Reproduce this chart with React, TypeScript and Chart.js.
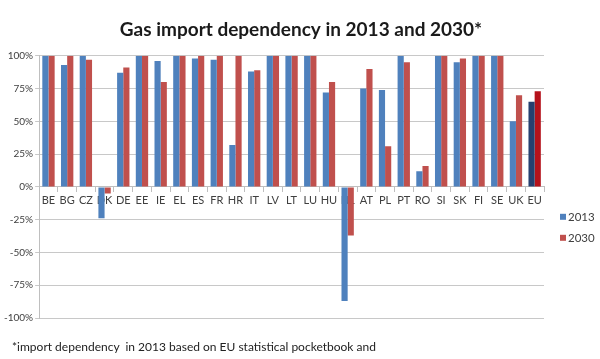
import React, { useEffect, useRef } from "react";
import { Chart, registerables } from "chart.js";

Chart.register(...registerables);

const categories = ["BE","BG","CZ","DK","DE","EE","IE","EL","ES","FR","HR","IT","LV","LT","LU","HU","NL","AT","PL","PT","RO","SI","SK","FI","SE","UK","EU"];
const values2013 = [100,93,100,-24,87,100,96,100,98,97,32,88,100,100,100,72,-87,75,74,100,12,100,95,100,100,50,65];
const values2030 = [100,100,97,-5,91,100,80,100,100,100,100,89,100,100,100,80,-37,90,31,95,16,100,98,100,100,70,73];
const seriesLabels = ["2013", "2030"];
const yTicks = [-100, -75, -50, -25, 0, 25, 50, 75, 100];
const titleText = "Gas import dependency in 2013 and 2030*";
const footnoteText = "*import dependency  in 2013 based on EU statistical pocketbook and";

const BLUE = "#4F81BD";
const RED = "#C0504D";
const EU_BLUE = "#26406F";
const EU_RED = "#B5121B";
const FONT = "Lato, 'Open Sans', sans-serif";

const sideLegend = {
  id: "sideLegend",
  afterDraw(chart: any) {
    const { ctx, chartArea } = chart;
    ctx.save();
    ctx.font = `11.5px ${FONT}`;
    ctx.textBaseline = "middle";
    chart.data.datasets.forEach((ds: any, i: number) => {
      const x = chartArea.right + 16;
      const y = chartArea.top + 161 + i * 21;
      const c = Array.isArray(ds.backgroundColor) ? ds.backgroundColor[0] : ds.backgroundColor;
      ctx.fillStyle = c;
      ctx.fillRect(x, y - 3, 6, 6);
      ctx.fillStyle = "#404040";
      ctx.fillText(ds.label, x + 8, y);
    });
    ctx.restore();
  },
};

export default function App() {
  const ref = useRef<HTMLCanvasElement>(null);
  useEffect(() => {
    document.body.style.margin = "0";
    const colors13 = categories.map((c) => (c === "EU" ? EU_BLUE : BLUE));
    const colors30 = categories.map((c) => (c === "EU" ? EU_RED : RED));
    const chart = new Chart(ref.current!, {
      type: "bar",
      data: {
        labels: categories,
        datasets: [
          { label: seriesLabels[0], data: values2013, backgroundColor: colors13, categoryPercentage: 0.66, barPercentage: 1 },
          { label: seriesLabels[1], data: values2030, backgroundColor: colors30, categoryPercentage: 0.66, barPercentage: 1 },
        ],
      },
      options: {
        animation: false,
        responsive: false,
        layout: { padding: { left: 2, right: 0, top: 0, bottom: 41 } },
        plugins: {
          legend: { display: false },
          tooltip: { enabled: false },
          title: {
            display: true,
            text: titleText,
            color: "#1a1a1a",
            font: { family: FONT, size: 19, weight: "bold" },
            padding: { top: 18, bottom: 15 },
          },
        },
        scales: {
          x: {
            position: { y: 0 } as any,
            z: 1,
            grid: { display: true, offset: true, drawOnChartArea: false, drawTicks: true, tickLength: 5, color: "#bfbfbf" },
            border: { display: true, color: "#bfbfbf" },
            ticks: { color: "#404040", font: { family: FONT, size: 11 }, padding: 2, maxRotation: 0, autoSkip: false },
          },
          y: {
            min: -100,
            max: 100,
            afterBuildTicks: (scale: any) => {
              scale.ticks = yTicks.map((v) => ({ value: v }));
            },
            grid: { color: "#c8c8c8", tickLength: 4, drawTicks: true },
            border: { display: true, color: "#bfbfbf" },
            ticks: {
              color: "#404040",
              font: { family: FONT, size: 10 },
              padding: 2,
              callback: (v: any) => `${v}%`,
            },
          },
          side: {
            position: "right",
            display: true,
            min: 0,
            max: 1,
            afterFit: (scale: any) => {
              scale.width = 56;
            },
            grid: { display: false },
            border: { display: false },
            ticks: { display: false },
          },
        },
      },
      plugins: [sideLegend],
    });
    return () => chart.destroy();
  }, []);
  return (
    <div style={{ position: "relative", width: 600, height: 359, background: "#fff", overflow: "hidden" }}>
      <canvas ref={ref} width={600} height={359} style={{ display: "block" }} />
      <div
        style={{
          position: "absolute",
          left: 12,
          top: 339,
          fontFamily: FONT,
          fontSize: 12,
          color: "#222",
          whiteSpace: "pre",
          lineHeight: "16px",
        }}
      >
        {footnoteText}
      </div>
    </div>
  );
}
